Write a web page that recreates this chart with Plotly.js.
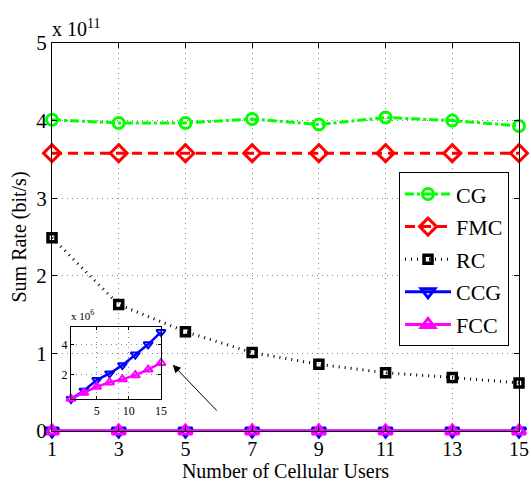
<!DOCTYPE html>
<html>
<head>
<meta charset="utf-8">
<script src="https://cdn.plot.ly/plotly-3.0.1.min.js"></script>
<style>html,body{margin:0;padding:0;background:#fff;}#chart{width:531px;height:482px;}</style>
</head>
<body>
<div id="chart"></div>
<script>
// Data (main axis in units of 1e11 bit/s, inset in units of 1e6 bit/s)
var users = [1, 3, 5, 7, 9, 11, 13, 15];
var cg  = [4.01, 3.97, 3.97, 4.02, 3.95, 4.04, 4.00, 3.93];
var fmc = [3.58, 3.58, 3.58, 3.58, 3.58, 3.58, 3.58, 3.58];
var rc  = [2.49, 1.63, 1.28, 1.01, 0.86, 0.75, 0.69, 0.62];
var ccgInset = [0.38, 0.93, 1.63, 2.07, 2.62, 3.32, 4.00, 4.81];
var fccInset = [0.40, 0.80, 1.19, 1.48, 1.68, 1.96, 2.33, 2.77];
var xTicks = [1, 3, 5, 7, 9, 11, 13, 15];
var yTicks = [0, 1, 2, 3, 4, 5];
var insetXTicks = [5, 10, 15];
var insetYTicks = [2, 4];

var ccgMain = ccgInset.map(function (v) { return v * 1e6 / 1e11; });
var fccMain = fccInset.map(function (v) { return v * 1e6 / 1e11; });

var serif = 'Liberation Serif, Times New Roman, serif';

var traces = [
  {x: users, y: cg, name: 'CG', mode: 'lines+markers', legendgroup: 'a',
   line: {color: '#00ff00', width: 3, dash: '9px,3px,3px,3px'},
   marker: {symbol: 'circle-open', size: 11, color: '#00ff00', line: {width: 3, color: '#00ff00'}}, cliponaxis: false},
  {x: users, y: fmc, name: 'FMC', mode: 'lines+markers', legendgroup: 'b',
   line: {color: '#ff0000', width: 3, dash: '10px,6px'},
   marker: {symbol: 'diamond-open', size: 13, color: '#ff0000', line: {width: 3, color: '#ff0000'}}, cliponaxis: false},
  {x: users, y: rc, name: 'RC', mode: 'lines+markers', legendgroup: 'c',
   line: {color: '#000000', width: 3, dash: '1px,5px'},
   marker: {symbol: 'square-open', size: 8, color: '#000000', line: {width: 3.5, color: '#000000'}}, cliponaxis: false},
  {x: users, y: ccgMain, name: 'CCG', mode: 'lines+markers', legendgroup: 'd',
   line: {color: '#0000ff', width: 3},
   marker: {symbol: 'triangle-down-open', size: 12, color: '#0000ff', line: {width: 3, color: '#0000ff'}}, cliponaxis: false},
  {x: users, y: fccMain, name: 'FCC', mode: 'lines+markers', legendgroup: 'e',
   line: {color: '#ff00ff', width: 3},
   marker: {symbol: 'triangle-up-open', size: 12, color: '#ff00ff', line: {width: 3, color: '#ff00ff'}}, cliponaxis: false},
  {x: users, y: ccgInset, xaxis: 'x2', yaxis: 'y2', showlegend: false, mode: 'lines+markers',
   line: {color: '#0000ff', width: 2.5},
   marker: {symbol: 'triangle-down-open', size: 8, color: '#0000ff', line: {width: 2, color: '#0000ff'}}, cliponaxis: false},
  {x: users, y: fccInset, xaxis: 'x2', yaxis: 'y2', showlegend: false, mode: 'lines+markers',
   line: {color: '#ff00ff', width: 2.5},
   marker: {symbol: 'triangle-up-open', size: 8, color: '#ff00ff', line: {width: 2, color: '#ff00ff'}}, cliponaxis: false}
];

var axisCommon = {
  showline: true, linecolor: '#000', linewidth: 1, mirror: 'allticks',
  ticks: 'inside', ticklen: 5, tickcolor: '#000',
  showgrid: true, gridcolor: '#888', griddash: '1px,4px', gridwidth: 1,
  zeroline: false
};

var layout = {
  width: 531, height: 482,
  margin: {l: 52, r: 12, t: 43, b: 51},
  paper_bgcolor: '#ffffff', plot_bgcolor: 'rgba(0,0,0,0)',
  font: {family: serif, color: '#000'},
  showlegend: true,
  legend: {
    x: 0.9786, xanchor: 'right', y: 0.667, yanchor: 'top',
    bgcolor: '#ffffff', bordercolor: '#000', borderwidth: 1,
    font: {family: serif, size: 22, color: '#000'},
    tracegroupgap: 1, itemwidth: 46
  },
  xaxis: Object.assign({}, axisCommon, {
    range: [1, 15], tickvals: xTicks, ticktext: xTicks.map(String),
    tickfont: {family: serif, size: 20}, ticklabelstandoff: 0,
    title: {text: 'Number of Cellular Users', font: {family: serif, size: 20}, standoff: 6}
  }),
  yaxis: Object.assign({}, axisCommon, {
    range: [0, 5], tickvals: yTicks, ticktext: yTicks.map(String),
    tickfont: {family: serif, size: 21},
    title: {text: 'Sum Rate (bit/s)', font: {family: serif, size: 20}, standoff: 4}
  }),
  xaxis2: Object.assign({}, axisCommon, {
    domain: [0.0407, 0.2334], anchor: 'y2',
    range: [1, 15], tickvals: insetXTicks, ticktext: insetXTicks.map(String),
    tickfont: {family: serif, size: 12}, ticklen: 3
  }),
  yaxis2: Object.assign({}, axisCommon, {
    domain: [0.0813, 0.267], anchor: 'x2',
    range: [0.35, 5.12], tickvals: insetYTicks, ticktext: insetYTicks.map(String),
    tickfont: {family: serif, size: 12}, ticklen: 3
  }),
  annotations: [
    {xref: 'paper', yref: 'paper', x: 0, y: 1, xanchor: 'left', yanchor: 'bottom',
     text: 'x 10<sup>11</sup>', showarrow: false, font: {family: serif, size: 20}, yshift: 1, xshift: -2},
    {xref: 'x2 domain', yref: 'y2 domain', x: 0, y: 1, xanchor: 'left', yanchor: 'bottom',
     text: 'x 10<sup>6</sup>', showarrow: false, font: {family: serif, size: 11}, yshift: 3, xshift: -2},
    {xref: 'x', yref: 'y', x: 4.62, y: 0.854, ax: 47, ay: 49, text: ' ', showarrow: true,
     arrowhead: 2, arrowsize: 1.6, arrowwidth: 1, arrowcolor: '#000'}
  ]
};

Plotly.newPlot('chart', traces, layout, {displayModeBar: false, staticPlot: true});
</script>
</body>
</html>
